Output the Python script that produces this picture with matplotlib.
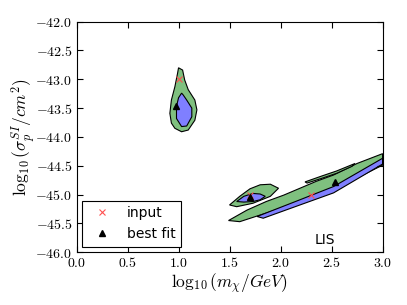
import matplotlib
matplotlib.use("Agg")
import matplotlib.pyplot as plt

plt.rcParams['mathtext.fontset'] = 'cm'
plt.rcParams['font.family'] = ['DejaVu Sans']

# outlines of the credible regions, (log10 m, log10 sigma)
low_outer_x = [1.00, 1.04, 1.06, 1.095, 1.16, 1.18, 1.16, 1.095, 1.03, 0.964, 0.93, 0.915, 0.93, 0.964, 0.99]
low_outer_y = [-42.80, -42.84, -43.01, -43.18, -43.36, -43.53, -43.71, -43.88, -43.91, -43.85, -43.76, -43.59, -43.36, -43.13, -42.90]
low_inner_x = [1.03, 1.045, 1.08, 1.13, 1.13, 1.08, 1.03, 0.98, 0.98, 1.00]
low_inner_y = [-43.24, -43.27, -43.36, -43.50, -43.65, -43.81, -43.82, -43.68, -43.47, -43.32]

mid_outer_x = [1.50, 1.60, 1.70, 1.80, 1.90, 1.98, 1.90, 1.73, 1.57]
mid_outer_y = [-45.18, -45.03, -44.90, -44.83, -44.82, -44.89, -45.03, -45.15, -45.21]
mid_inner_x = [1.57, 1.64, 1.73, 1.80, 1.85, 1.80, 1.73, 1.64]
mid_inner_y = [-45.12, -45.03, -44.98, -44.99, -45.03, -45.09, -45.12, -45.13]

high_outer_x = [1.49, 1.67, 1.86, 2.03, 2.19, 2.35, 2.52, 2.75, 3.00, 3.00, 2.84, 2.52, 2.19, 1.86, 1.60]
high_outer_y = [-45.45, -45.27, -45.12, -45.01, -44.89, -44.77, -44.66, -44.46, -44.29, -44.49, -44.63, -44.92, -45.12, -45.32, -45.47]
high_inner_x = [1.77, 2.19, 2.52, 3.00, 3.00, 2.52, 2.19, 1.83]
high_inner_y = [-45.38, -45.09, -44.86, -44.37, -44.47, -44.97, -45.18, -45.41]
sliver_x = [2.24, 2.40, 2.55, 2.73, 2.70, 2.55, 2.40, 2.26]
sliver_y = [-44.78, -44.68, -44.59, -44.46, -44.51, -44.63, -44.72, -44.80]

input_x = [1.0, 1.7, 2.3]
input_y = [-43.0, -45.0, -45.0]
best_x = [0.98, 1.70, 2.53]
best_y = [-43.47, -45.05, -44.79]

green = '#7fc07f'
blue = '#7f7fff'

fig = plt.figure(figsize=(4.07, 3.05), dpi=100)
ax = fig.add_axes([0.188, 0.173, 0.752, 0.756])

for xs, ys in [(low_outer_x, low_outer_y), (mid_outer_x, mid_outer_y),
               (high_outer_x, high_outer_y), (sliver_x, sliver_y)]:
    ax.fill(xs, ys, facecolor=green, edgecolor='k', lw=0.8)
for xs, ys in [(low_inner_x, low_inner_y), (mid_inner_x, mid_inner_y),
               (high_inner_x, high_inner_y)]:
    ax.fill(xs, ys, facecolor=blue, edgecolor='k', lw=0.8)

ax.plot(input_x, input_y, 'x', color='#ff5050', ms=5, mew=0.8, label='input', ls='none')
ax.plot(best_x, best_y, '^', color='k', ms=5, label='best fit', ls='none')

ax.set_xlim(0, 3)
ax.set_ylim(-46, -42)
xt = [0.0, 0.5, 1.0, 1.5, 2.0, 2.5, 3.0]
yt = [-46.0, -45.5, -45.0, -44.5, -44.0, -43.5, -43.0, -42.5, -42.0]
ax.set_xticks(xt)
ax.set_xticklabels([f'${v:.1f}$' for v in xt], fontsize=10)
ax.set_yticks(yt)
ax.set_yticklabels([f'${v:.1f}$' for v in yt], fontsize=10)
ax.tick_params(direction='in', top=True, right=True, length=4, pad=3)

ax.set_xlabel(r'$\log_{10}(m_\chi/GeV)$', fontsize=12.5, labelpad=1)
ax.set_ylabel(r'$\log_{10}(\sigma_p^{SI}/cm^2)$', fontsize=12.5, labelpad=-1)

ax.text(2.43, -45.79, 'LIS', fontsize=10, ha='center', va='center')
leg = ax.legend(loc='lower left', fontsize=10, numpoints=1, fancybox=False,
                framealpha=1, edgecolor='k', borderaxespad=0.4)
leg.get_frame().set_linewidth(0.8)

plt.savefig('out.png', dpi=100)
